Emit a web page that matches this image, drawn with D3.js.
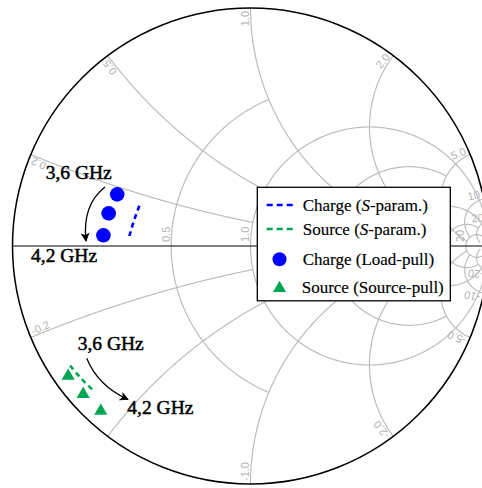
<!DOCTYPE html>
<html><head><meta charset="utf-8">
<script src="https://cdn.jsdelivr.net/npm/d3@7"></script>
<style>html,body{margin:0;padding:0;background:#fff;overflow:hidden}</style>
</head><body>
<svg id="c" width="482" height="488"></svg>
<script>
// ---- data (reflection coefficient, Re / Im) ----
const loadPullRe = [-0.560, -0.596, -0.618];
const loadPullIm = [0.217, 0.137, 0.045];
const chargeSRe = [-0.467, -0.478, -0.489, -0.499, -0.509];
const chargeSIm = [0.169, 0.139, 0.109, 0.076, 0.042];
const sourcePullRe = [-0.766, -0.703, -0.629];
const sourcePullIm = [-0.542, -0.619, -0.689];
const sourceSRe = [-0.758, -0.712, -0.663];
const sourceSIm = [-0.503, -0.556, -0.605];
// grid: resistance circles [value, reactance limit]
const resValues = [0.5, 1, 2, 5, 10, 20];
const resLimits = [1, Infinity, 5, 20, 20, 50];
// reactance arcs [value, resistance limit]
const reaValues = [0.2, 0.5, 1, 2, 5, 10, 20];
const reaLimits = [1, 2, 5, 5, 20, 20, 50];
const reaLabels = ["0.2", "0.5", "1.0", "2.0", "5.0", "10", "20"];
const reaNegLabels = ["-0.2", "", "-1.0", "-2.0", "-5.0", "-10", "-20"];
const resLabels = ["0.5", "1.0", "2.0", "5.0", "10", "20"];
const legendLabels = ["Charge (S-param.)", "Source (S-param.)", "Charge (Load-pull)", "Source (Source-pull)"];

const cx = 250.5, cy = 246, R = 238;
const xs = d3.scaleLinear().domain([-1, 1]).range([cx - R, cx + R]);
const ys = d3.scaleLinear().domain([-1, 1]).range([cy + R, cy - R]);
const svg = d3.select("#c");
const BLUE = "#0000ff", GREEN = "#00a651", GRID = "#bdbdbd", LAB = "#b3b3b3";

function gam(r, x) { // (z-1)/(z+1)
  const a = r - 1, b = x, c = r + 1, d = x;
  const den = c * c + d * d;
  return [(a * c + b * d) / den, (b * c - a * d) / den];
}
const line = d3.line().x(p => xs(p[0])).y(p => ys(p[1]));
const g = svg.append("g");
resValues.forEach((r, i) => {
  const lim = resLimits[i];
  const amax = lim === Infinity ? Math.PI / 2 - 1e-6 : Math.atan(lim);
  const pts = d3.range(0, 401).map(k => gam(r, Math.tan(-amax + 2 * amax * k / 400)));
  g.append("path").attr("d", line(pts)).attr("fill", "none").attr("stroke", GRID).attr("stroke-width", 1.2);
});
reaValues.forEach((x, i) => {
  const amax = Math.atan(reaLimits[i]);
  [x, -x].forEach(xx => {
    const pts = d3.range(0, 401).map(k => gam(Math.tan(amax * k / 400), xx));
    g.append("path").attr("d", line(pts)).attr("fill", "none").attr("stroke", GRID).attr("stroke-width", 1.2);
  });
});
const lf = "'Liberation Sans', Arial, sans-serif";
reaValues.forEach((x, i) => {
  [1, -1].forEach(s => {
    const txt = s > 0 ? reaLabels[i] : reaNegLabels[i];
    if (!txt) return;
    const p = gam(0, s * x);
    const th = Math.atan2(p[1], p[0]) * 180 / Math.PI;
    const rot = s > 0 ? -th : 180 - th;
    g.append("text")
      .attr("transform", `translate(${xs(p[0])},${ys(p[1])}) rotate(${rot})`)
      .attr("x", s > 0 ? -3 : 3).attr("y", -1.5)
      .attr("text-anchor", s > 0 ? "end" : "start")
      .attr("font-family", lf).attr("font-size", 11).attr("fill", LAB)
      .text(txt);
  });
});
resValues.forEach((r, i) => {
  const p = gam(r, 0);
  g.append("text")
    .attr("transform", `translate(${xs(p[0])},${ys(p[1])}) rotate(-90)`)
    .attr("x", 4).attr("y", -1.5)
    .attr("font-family", lf).attr("font-size", 11).attr("fill", LAB)
    .text(resLabels[i]);
});
svg.append("line").attr("x1", xs(-1)).attr("x2", xs(1)).attr("y1", ys(0)).attr("y2", ys(0))
  .attr("stroke", "#000").attr("stroke-width", 1.2);
svg.append("circle").attr("cx", xs(0)).attr("cy", ys(0)).attr("r", xs(1) - xs(0))
  .attr("fill", "none").attr("stroke", "#000").attr("stroke-width", 1.5);

const curve = d3.line().x(p => xs(p[0])).y(p => ys(p[1])).curve(d3.curveCatmullRom);
svg.append("path").attr("d", curve(chargeSRe.map((v, i) => [v, chargeSIm[i]])))
  .attr("fill", "none").attr("stroke", BLUE).attr("stroke-width", 2.6).attr("stroke-dasharray", "5,4");
svg.append("path").attr("d", curve(sourceSRe.map((v, i) => [v, sourceSIm[i]])))
  .attr("fill", "none").attr("stroke", GREEN).attr("stroke-width", 2.6).attr("stroke-dasharray", "5,4");
svg.selectAll("circle.lp").data(loadPullRe).enter().append("circle").attr("class", "lp")
  .attr("cx", d => xs(d)).attr("cy", (d, i) => ys(loadPullIm[i])).attr("r", 7.3).attr("fill", BLUE);
const tri = d3.symbol().type(d3.symbolTriangle).size(75);
svg.selectAll("path.sp").data(sourcePullRe).enter().append("path").attr("class", "sp")
  .attr("d", tri).attr("transform", (d, i) => `translate(${xs(d)},${ys(sourcePullIm[i]) + 1})`).attr("fill", GREEN);

const defs = svg.append("defs");
defs.append("marker").attr("id", "ah").attr("viewBox", "0 0 10 10").attr("refX", 9).attr("refY", 5)
  .attr("markerWidth", 9).attr("markerHeight", 9).attr("markerUnits", "userSpaceOnUse").attr("orient", "auto")
  .append("path").attr("d", "M0,0 L10,5 L0,10 L2.5,5 Z").attr("fill", "#000");
svg.append("path").attr("d", "M105,187 Q82,205 86,241").attr("fill", "none").attr("stroke", "#000")
  .attr("stroke-width", 1.3).attr("marker-end", "url(#ah)");
svg.append("path").attr("d", "M86.7,358.3 Q98,386 128,399.5").attr("fill", "none").attr("stroke", "#000")
  .attr("stroke-width", 1.3).attr("marker-end", "url(#ah)");
const sf = "'Liberation Serif', 'Times New Roman', serif";
const ann = [["3,6 GHz", 45.7, 179.3], ["4,2 GHz", 31, 261.7], ["3,6 GHz", 77.7, 350], ["4,2 GHz", 127.3, 414.3]];
ann.forEach(a => svg.append("text").attr("x", a[1]).attr("y", a[2]).attr("font-family", sf)
  .attr("font-size", 19.5).attr("fill", "#000").attr("stroke", "#000").attr("stroke-width", 0.5).text(a[0]));

const lg = svg.append("g");
lg.append("rect").attr("x", 257.3).attr("y", 187.3).attr("width", 193).attr("height", 113.5)
  .attr("fill", "#fff").attr("stroke", "#000").attr("stroke-width", 1.3);
const rowsY = [205, 229, 259.3, 287.3];
[BLUE, GREEN].forEach((c, i) => lg.append("line").attr("x1", 266.7).attr("x2", 292.7)
  .attr("y1", rowsY[i]).attr("y2", rowsY[i]).attr("stroke", c).attr("stroke-width", 2.6).attr("stroke-dasharray", "6,4"));
lg.append("circle").attr("cx", 279.5).attr("cy", rowsY[2]).attr("r", 7).attr("fill", BLUE);
lg.append("path").attr("d", tri).attr("transform", `translate(279.5,${rowsY[3] + 1})`).attr("fill", GREEN);
legendLabels.forEach((t, i) => {
  const tx = lg.append("text").attr("x", i === 3 ? 301.7 : 302.7).attr("y", rowsY[i]).attr("dy", "0.33em")
    .attr("font-family", sf).attr("font-size", 17).attr("fill", "#000").attr("stroke", "#000").attr("stroke-width", 0.15);
  const m = t.match(/^(.*\()S(-param\.\))$/);
  if (m) {
    tx.append("tspan").text(m[1]);
    tx.append("tspan").attr("font-style", "italic").text("S");
    tx.append("tspan").text(m[2]);
  } else tx.text(t);
});
</script>
</body></html>
